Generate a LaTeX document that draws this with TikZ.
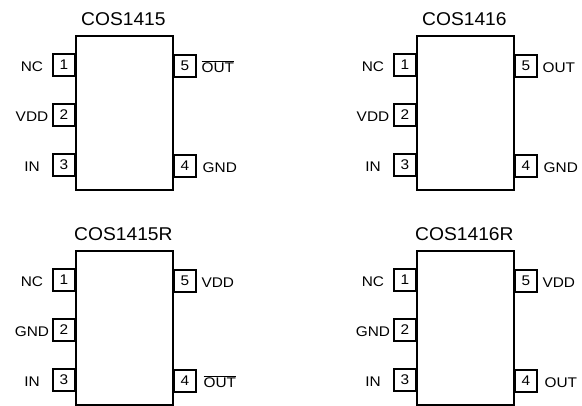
\documentclass[tikz,border=0pt]{standalone}
\usepackage{fontspec}
\setmainfont{Liberation Sans}
\newfontfamily\pinfont[FakeStretch=1.1]{Liberation Sans}
\newfontfamily\titlefont[FakeStretch=1.04]{Liberation Sans}
\newcommand\ovl[1]{\ensuremath{\overline{\mbox{#1}}}}
\tikzset{
  body/.style={draw, line width=1.8pt, minimum width=97pt, minimum height=154pt, inner sep=0pt, anchor=north west},
  pinbox/.style={draw, line width=1.6pt, minimum size=22pt, inner sep=0pt, font=\pinfont\fontsize{14}{14}\selectfont},
  pinlabel/.style={inner sep=0pt, anchor=base, font=\pinfont\fontsize{14}{14}\selectfont},
  chiptitle/.style={inner sep=0pt, anchor=base, font=\titlefont\fontsize{18.5}{18.5}\selectfont},
}
% #1 x, #2 y, #3 prefix, #4 title, #5 pin1, #6 pin2, #7 pin3, #8 pin5, #9 pin4
\newcommand\chip[9]{%
  \node[body] (#3b) at (#1,#2) {};
  \node[chiptitle] (#3t) at ([xshift=-1pt,yshift=10pt]#3b.north) {#4};
  \node[pinbox] (#3p1) at ([xshift=-11pt,yshift=-30pt]#3b.north west) {1};
  \node[pinbox] (#3p2) at ([xshift=-11pt,yshift=-80pt]#3b.north west) {2};
  \node[pinbox] (#3p3) at ([xshift=-11pt,yshift=-130pt]#3b.north west) {3};
  \node[pinbox] (#3p5) at ([xshift=11pt,yshift=-31pt]#3b.north east) {5};
  \node[pinbox] (#3p4) at ([xshift=11pt,yshift=-131pt]#3b.north east) {4};
  \node[pinlabel] (#3l1) at ([xshift=-43pt,yshift=-36.5pt]#3b.north west) {#5};
  \node[pinlabel] (#3l2) at ([xshift=-43pt,yshift=-86.5pt]#3b.north west) {#6};
  \node[pinlabel] (#3l3) at ([xshift=-43pt,yshift=-136.5pt]#3b.north west) {#7};
  \node[pinlabel] (#3l5) at ([xshift=44pt,yshift=-37.5pt]#3b.north east) {#8};
  \node[pinlabel] (#3l4) at ([xshift=46pt,yshift=-137.5pt]#3b.north east) {#9};
}
\begin{document}
\begin{tikzpicture}[x=1pt,y=-1pt]
  \useasboundingbox (0,0) rectangle (582,405);
  \chip{75}{35}{a}{COS1415}{NC}{VDD}{IN}{\ovl{OUT}}{GND}
  \chip{416}{35}{b}{COS1416}{NC}{VDD}{IN}{OUT}{GND}
  \chip{75}{250}{c}{COS1415R}{NC}{GND}{IN}{VDD}{\ovl{OUT}}
  \chip{416}{250}{d}{COS1416R}{NC}{GND}{IN}{VDD}{OUT}
\end{tikzpicture}
\end{document}
